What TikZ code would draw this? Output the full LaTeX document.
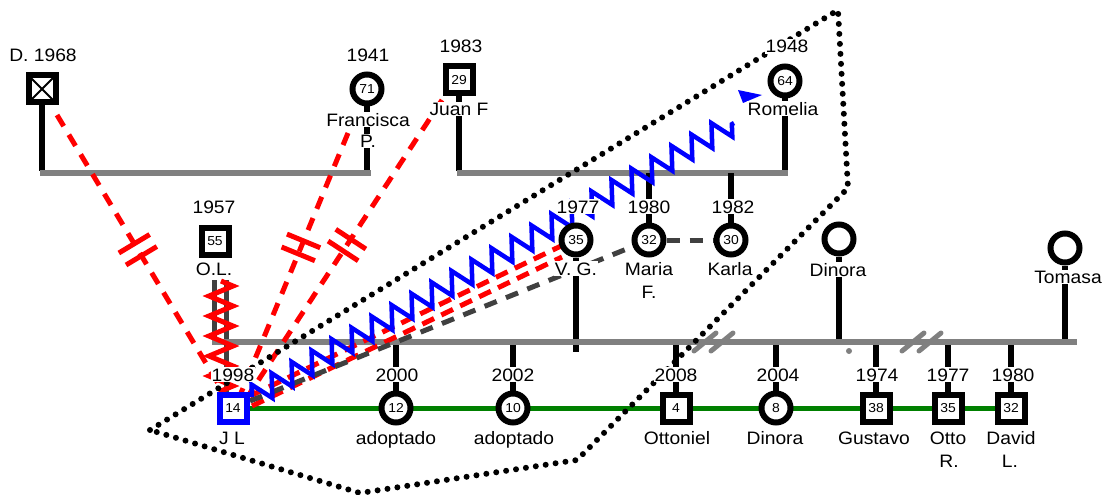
\documentclass[tikz,border=0pt]{standalone}
\usepackage{fontspec}
\setmainfont{Liberation Sans}[FakeStretch=1.07]
\usetikzlibrary{decorations.pathmorphing,decorations.markings,calc}
\pgfdeclarelayer{bg}\pgfdeclarelayer{mid}
\pgfsetlayers{bg,mid,main}
\newcommand{\labf}{\fontsize{18}{22}\selectfont}
\newcommand{\numf}{\fontsize{13}{14}\selectfont}
\definecolor{bargray}{RGB}{128,128,128}
\definecolor{dkgray}{RGB}{64,64,64}
\definecolor{relred}{RGB}{255,0,0}
\definecolor{relblue}{RGB}{0,0,255}
\definecolor{relgreen}{RGB}{0,128,0}
\begin{document}
\begin{tikzpicture}[x=1pt,y=-1pt,
  male/.style={draw, rectangle, line width=6pt, minimum size=27pt, inner sep=0pt, fill=white, font=\numf},
  female/.style={draw, circle, line width=6pt, minimum size=29pt, inner sep=0pt, fill=white, font=\numf},
  lab/.style={fill=white, inner sep=1pt, font=\labf, anchor=base},
  famline/.style={line width=5.5pt, black},
  barline/.style={line width=5.5pt, bargray},
  slash/.style={line width=5pt, bargray, line cap=round},
  cutoffline/.style={relred, line width=5pt, dash pattern=on 13pt off 10pt,
    postaction={decorate, decoration={markings, mark=at position #1 with {\draw[solid, relred, line width=5pt] (-7pt,-18pt) -- (-7pt,18pt) (7pt,-18pt) -- (7pt,18pt);}}}},
  reddash/.style={relred, line width=5pt, dash pattern=on 13pt off 8pt},
  graydash/.style={dkgray, line width=5pt, dash pattern=on 13pt off 10pt},
  bluezig/.style={relblue, line width=4.5pt, decorate, decoration={zigzag, segment length=23pt, amplitude=11pt}},
  redzig/.style={relred, line width=5pt, decorate, decoration={zigzag, segment length=20pt, amplitude=12pt}},
  dotline/.style={black, line width=6pt, line cap=round, dash pattern=on 0pt off 10pt},
  fused/.style={dkgray, line width=5pt}
]
\useasboundingbox (0,0) rectangle (1104,495);

% ---------- symbols ----------
\node[male, path picture={\draw[line width=1.8pt] (path picture bounding box.north west) -- (path picture bounding box.south east) (path picture bounding box.north east) -- (path picture bounding box.south west);}] (dsq) at (42,89) {};
\node[female] (fra) at (367,89) {71};
\node[male] (jua) at (459,80) {29};
\node[female] (rom) at (785,81) {64};
\node[male] (ol) at (215,241) {55};
\node[female] (vg) at (576,240) {35};
\node[female] (mar) at (649,240) {32};
\node[female] (kar) at (731,240) {30};
\node[female] (dit) at (839,239) {};
\node[female] (tom) at (1065,248) {};
\node[male, draw=relblue] (jl) at (233,408) {14};
\node[female] (c2000) at (396,408) {12};
\node[female] (c2002) at (513,408) {10};
\node[male] (c2008) at (676,408) {4};
\node[female] (c2004) at (776,408) {8};
\node[male] (c1974) at (876,408) {38};
\node[male] (c1977) at (948,408) {35};
\node[male] (c1980) at (1011,408) {32};
\node[circle, fill=bargray, inner sep=0pt, minimum size=6pt] (gdot) at (849,351) {};

% ---------- coordinates ----------
\coordinate (b1l) at (39.5,173);
\coordinate (b1r) at (370.5,173);
\coordinate (b2l) at (456.5,173);
\coordinate (b2r) at (787.5,173);
\coordinate (mbl) at (212,342);
\coordinate (mbr) at (1077,342);

% ---------- structure ----------
\begin{pgfonlayer}{bg}
  \draw[famline] (fra) -- ([yshift=2.5pt]fra |- b1r);
  \draw[famline] (dsq) -- ([yshift=2.5pt]dsq |- b1r);
  \draw[barline] (b1l) -- (b1r);
  \draw[famline] (jua) -- ([yshift=2.5pt]jua |- b2r);
  \draw[famline] (rom) -- ([yshift=2.5pt]rom |- b2r);
  \draw[barline] (b2l) -- (b2r);
  \draw[famline] (mar |- b2r) -- (mar);
  \draw[famline] (kar |- b2r) -- (kar);
  \draw[famline] (vg) -- ($(vg |- mbl)+(0,10)$);
  \draw[famline] (dit) -- (dit |- mbl);
  \draw[famline] (tom) -- (tom |- mbl);
  \draw[fused] ($(ol)+(-1,39)$) -- ($(ol |- mbl)+(-1,0)$);
  \draw[fused] ($(ol)+(11,39)$) -- ($(jl.north)+(-7,0)$);
  \foreach \c in {c2000,c2002,c2008,c2004,c1974,c1977,c1980}
    \draw[famline] (\c |- mbl) -- (\c);
  \draw[relgreen, line width=5pt] (jl) -- (c1980);
  \draw[barline] (mbl) -- (mbr);
  \foreach \sx in {705,722,913,930}
    \draw[slash] (\sx-11,351) -- (\sx+11,333);
\end{pgfonlayer}

% ---------- relationships ----------
\coordinate (p1) at (150,430);
\coordinate (p2) at (838,10);
\coordinate (p3) at (848,188);
\coordinate (p4) at (577,460);
\coordinate (p5) at (360,493);
\coordinate (dst) at (57,115);
\coordinate (den) at (222,390);
\coordinate (fst) at (348,133);
\coordinate (fen) at (241,393);
\coordinate (jst) at (442,100);
\coordinate (jen) at (250,393);
\coordinate (bzs) at (252,397);
\coordinate (bze) at (734,123);
\coordinate (rzs) at (221,281);
\coordinate (rze) at (221,392);
\coordinate (r1s) at (250,396);
\coordinate (r2s) at (252,406);
\coordinate (gds) at (250,401);
\begin{pgfonlayer}{mid}
  \draw[cutoffline=0.49] (dst) -- (den);
  \draw[cutoffline=0.44] (fst) -- (fen);
  \draw[cutoffline=0.495] (jst) -- (jen);
  \draw[redzig] (rzs) -- (rze);
  \draw[reddash] (r1s) -- ($(vg.center)+(-15,6)$);
  \draw[reddash] (r2s) -- ($(vg.center)+(-14,17)$);
  \draw[graydash] (gds) -- (mar);
  \draw[graydash] (mar) -- (kar);
  \draw[bluezig] (bzs) -- (bze);
  \fill[relblue] (738,90) -- (762,95) -- (743,103) -- cycle;
  \draw[dotline] (p1) -- (p2) -- (p3) -- (p4) -- (p5) -- cycle;
\end{pgfonlayer}

% ---------- labels ----------
\node[lab] (ld) at (43,62) {D. 1968};
\node[lab] (l1941) at (368,62) {1941};
\node[lab] (l1983) at (461,53) {1983};
\node[lab] (l1948) at (787,53) {1948};
\node[lab] (lfra) at (368,126) {Francisca};
\node[lab] (lfra2) at (368,147) {P.};
\node[lab] (ljua) at (459,115) {Juan F};
\node[lab] (lrom) at (783,115) {Romelia};
\node[lab] (l1957) at (214,213) {1957};
\node[lab] (lol) at (214,275) {O.L.};
\node[lab] (l1977a) at (578,213) {1977};
\node[lab] (l1980a) at (649,213) {1980};
\node[lab] (l1982) at (733,213) {1982};
\node[lab] (lvg) at (576,275) {V. G.};
\node[lab] (lmar) at (649,275) {Maria};
\node[lab] (lmar2) at (649,298) {F.};
\node[lab] (lkar) at (730,275) {Karla};
\node[lab] (ldit) at (838,276) {Dinora};
\node[lab] (ltom) at (1068,283) {Tomasa};
\node[lab] (l1998) at (233,381) {1998};
\node[lab] (l2000) at (397,381) {2000};
\node[lab] (l2002) at (513,381) {2002};
\node[lab] (l2008) at (676,381) {2008};
\node[lab] (l2004) at (778,381) {2004};
\node[lab] (l1974) at (877,381) {1974};
\node[lab] (l1977b) at (948,381) {1977};
\node[lab] (l1980b) at (1013,381) {1980};
\node[lab] (ljl) at (232,444) {J L};
\node[lab] (lad1) at (396,444) {adoptado};
\node[lab] (lad2) at (514,444) {adoptado};
\node[lab] (lott) at (677,444) {Ottoniel};
\node[lab] (ldin) at (775,444) {Dinora};
\node[lab] (lgus) at (874,444) {Gustavo};
\node[lab] (lotr) at (948,444) {Otto};
\node[lab] (lotr2) at (949,467) {R.};
\node[lab] (ldav) at (1011,444) {David};
\node[lab] (ldav2) at (1010,467) {L.};
\end{tikzpicture}
\end{document}
